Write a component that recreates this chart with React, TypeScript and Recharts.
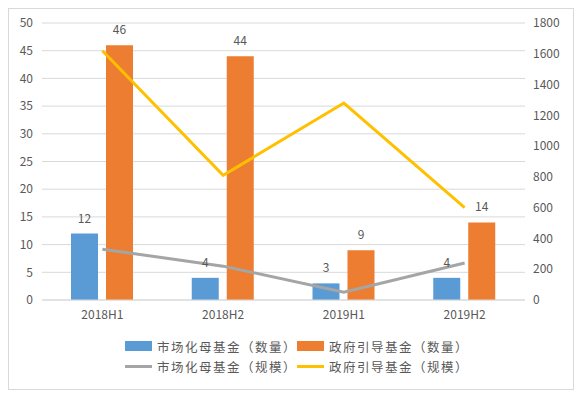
import {
  ComposedChart,
  Bar,
  Line,
  XAxis,
  YAxis,
  CartesianGrid,
  Legend,
  LabelList,
} from "recharts";

const periods = ["2018H1", "2018H2", "2019H1", "2019H2"];
const marketCount = [12, 4, 3, 4];
const govCount = [46, 44, 9, 14];
const marketScale = [330, 220, 50, 240];
const govScale = [1620, 810, 1280, 600];
const leftTicks = [0, 5, 10, 15, 20, 25, 30, 35, 40, 45, 50];
const rightTicks = [0, 200, 400, 600, 800, 1000, 1200, 1400, 1600, 1800];

const data = periods.map((p, i) => ({
  period: p,
  marketCount: marketCount[i],
  govCount: govCount[i],
  marketScale: marketScale[i],
  govScale: govScale[i],
}));

const FONT = '"Noto Sans CJK SC", "Noto Sans", sans-serif';
const TEXT = "#595959";
const BLUE = "#5B9BD5";
const ORANGE = "#ED7D31";
const GRAY = "#A5A5A5";
const YELLOW = "#FFC000";

const legendItems = [
  { name: "市场化母基金（数量）", color: BLUE, type: "rect" },
  { name: "政府引导基金（数量）", color: ORANGE, type: "rect" },
  { name: "市场化母基金（规模）", color: GRAY, type: "line" },
  { name: "政府引导基金（规模）", color: YELLOW, type: "line" },
];

function LegendBox() {
  return (
    <div
      style={{
        display: "grid",
        gridTemplateColumns: "172px 172px",
        rowGap: 4,
        fontFamily: FONT,
        fontSize: 12.5,
        color: TEXT,
      }}
    >
      {legendItems.map((it) => (
        <div key={it.name} style={{ display: "flex", alignItems: "center", height: 16 }}>
          {it.type === "rect" ? (
            <span style={{ display: "inline-block", width: 29, height: 10, background: it.color }} />
          ) : (
            <span style={{ display: "inline-block", width: 30, height: 3, background: it.color }} />
          )}
          <span style={{ marginLeft: 5, letterSpacing: 1.5, whiteSpace: "nowrap" }}>
            {it.name}
          </span>
        </div>
      ))}
    </div>
  );
}

export default function App() {
  const tick = { fill: TEXT, fontSize: 12, fontFamily: FONT };
  return (
    <div
      style={{
        width: 564,
        height: 380,
        border: "1px solid #D9D9D9",
        background: "#fff",
        fontFamily: FONT,
      }}
    >
      <ComposedChart
        width={564}
        height={380}
        data={data}
        margin={{ top: 14, right: 0, bottom: 59, left: 0 }}
        barGap={8}
      >
        <CartesianGrid yAxisId="left" vertical={false} stroke="#D9D9D9" />
        <XAxis
          dataKey="period"
          tick={tick}
          tickLine={false}
          axisLine={{ stroke: "#D9D9D9" }}
          tickMargin={4}
        />
        <YAxis
          yAxisId="left"
          width={33}
          domain={[0, 50]}
          ticks={leftTicks}
          tick={tick}
          tickLine={false}
          axisLine={false}
          tickMargin={3}
        />
        <YAxis
          yAxisId="right"
          orientation="right"
          width={48}
          domain={[0, 1800]}
          ticks={rightTicks}
          tick={{ ...tick, textAnchor: "start" }}
          tickLine={false}
          axisLine={false}
          tickMargin={2}
        />
        <Bar yAxisId="left" dataKey="marketCount" fill={BLUE} barSize={27} isAnimationActive={false}>
          <LabelList dataKey="marketCount" position="top" offset={11} fill={TEXT} fontSize={12} fontFamily={FONT} />
        </Bar>
        <Bar yAxisId="left" dataKey="govCount" fill={ORANGE} barSize={27} isAnimationActive={false}>
          <LabelList dataKey="govCount" position="top" offset={11} fill={TEXT} fontSize={12} fontFamily={FONT} />
        </Bar>
        <Line
          yAxisId="right"
          dataKey="marketScale"
          stroke={GRAY}
          strokeWidth={3}
          dot={false}
          type="linear"
          isAnimationActive={false}
        />
        <Line
          yAxisId="right"
          dataKey="govScale"
          stroke={YELLOW}
          strokeWidth={3}
          dot={false}
          type="linear"
          isAnimationActive={false}
        />
        <Legend
          layout="horizontal"
          verticalAlign="middle"
          align="center"
          wrapperStyle={{ top: 329, left: 116, width: 380 }}
          content={() => <LegendBox />}
        />
      </ComposedChart>
    </div>
  );
}
